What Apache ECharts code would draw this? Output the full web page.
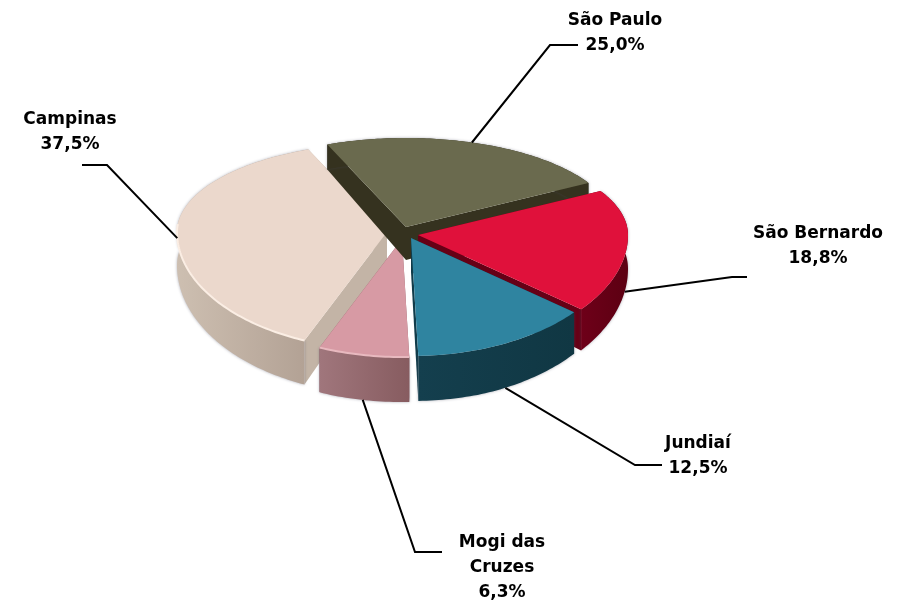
<!DOCTYPE html>
<html><head><meta charset="utf-8">
<style>html,body{margin:0;padding:0;background:#fff}#c{width:902px;height:603px}</style>
<script src="https://cdn.jsdelivr.net/npm/echarts@6/dist/echarts.min.js"></script>
</head><body><div id="c"></div>
<script>
// data, clockwise from the São Paulo slice
const categories = ['São Paulo', 'São Bernardo', 'Jundiaí', 'Mogi das\nCruzes', 'Campinas'];
const shares = [25.0, 18.8, 12.5, 6.3, 37.5];

// look
const topColors = ['#6a6a4e', '#e0113b', '#2f84a0', '#d79aa4', '#ebd8cc'];
const cutColors = ['#35321f', '#660016', '#113c4a', '#8f6066', '#c3b4a6'];
const wallFrom  = ['#35321f', '#6e0019', '#143f4e', '#a0767c', '#cdbfb1'];
const wallTo    = ['#35321f', '#5c0012', '#103743', '#875c60', '#b2a194'];
const rimLight  = [null, null, null, '#e8b9bf', '#fbeee4'];
// layout: each slice's exploded apex, label centre, leader elbow and end
const apexX = [406, 418, 411, 402, 387];
const apexY = [227, 235, 238, 239, 232];
const labelX = [615, 818, 698, 502, 70];
const labelY = [33, 246, 456, 568, 132];
const elbowX = [550, 732, 635, 415, 107];
const elbowY = [45, 277, 465, 552, 165];
const endX = [578, 747, 662, 442, 82];
const leaderT = [23, 108, 158, 192, 267];
const leaderDown = [false, true, true, true, false];
const drawOrder = [4, 3, 0, 1, 2];
const RX = 210, RY_BACK = 89, RY_FRONT = 118, START = -22;

const rad = d => d * Math.PI / 180;
function view(t) { // perspective foreshortening of the angle
  let u = ((t - START) % 360 + 360) % 360;
  if (u < 225) u -= 8 * Math.sin(rad(u * 180 / 225));
  return u + START;
}
function rim(i, t) {
  const v = rad(view(t)), c = Math.cos(v);
  return [apexX[i] + RX * Math.sin(v), apexY[i] - (c > 0 ? RY_BACK : RY_FRONT) * c];
}
const depth = y => Math.max(22, Math.min(45, 25 + (y - 145) * 20 / 205));
const down = p => [p[0], p[1] + depth(p[1])];

const total = shares.reduce((a, b) => a + b, 0);
const bounds = [START];
shares.forEach((v, i) => bounds.push(bounds[i] + v / total * 360));

function renderItem(params, api) {
  const i = api.value(0);
  const a = bounds[i], b = bounds[i + 1];
  const arc = [];
  const n = Math.ceil(b - a);
  for (let k = 0; k <= n; k++) arc.push(rim(i, a + (b - a) * k / n));
  const apex = [apexX[i], apexY[i]];
  const wall = arc.concat(arc.map(down).reverse());
  const first = arc[0], last = arc[arc.length - 1];
  const kids = [
    { type: 'polygon', shape: { points: [apex, first, down(first), down(apex)] }, style: { fill: cutColors[i] } },
    { type: 'polygon', shape: { points: [apex, last, down(last), down(apex)] }, style: { fill: cutColors[i] } },
    { type: 'polygon', shape: { points: wall }, style: {
        fill: new echarts.graphic.LinearGradient(0, 0, 1, 0, [{ offset: 0, color: wallFrom[i] }, { offset: 1, color: wallTo[i] }]),
        shadowBlur: 3, shadowColor: 'rgba(70,70,90,0.45)' } },
    { type: 'polygon', shape: { points: [apex].concat(arc) }, style: { fill: topColors[i] } }
  ];
  if (rimLight[i]) {
    const front = arc.filter((p, k) => Math.cos(rad(view(a + (b - a) * k / n))) < 0.1);
    kids.push({ type: 'polyline', shape: { points: front }, style: { fill: null, stroke: rimLight[i], lineWidth: 2 } });
  }
  let s = rim(i, leaderT[i]);
  if (leaderDown[i]) s = down(s);
  kids.push({ type: 'polyline', z2: 50, shape: { points: [s, [elbowX[i], elbowY[i]], [endX[i], elbowY[i]]] },
    style: { fill: null, stroke: '#000', lineWidth: 2 } });
  kids.push({ type: 'text', z2: 60, style: {
    x: labelX[i], y: labelY[i], text: categories[i] + '\n' + shares[i].toFixed(1).replace('.', ',') + '%',
    align: 'center', verticalAlign: 'middle', fill: '#000', font: 'bold 17px "DejaVu Sans"', lineHeight: 25 } });
  return { type: 'group', children: kids };
}

const chart = echarts.init(document.getElementById('c'), null, { renderer: 'canvas' });
chart.setOption({
  animation: false,
  backgroundColor: '#fff',
  series: [{
    type: 'custom',
    coordinateSystem: 'none',
    renderItem,
    data: drawOrder.map(i => ({ name: categories[i], value: [i, shares[i]] }))
  }]
});
</script></body></html>
